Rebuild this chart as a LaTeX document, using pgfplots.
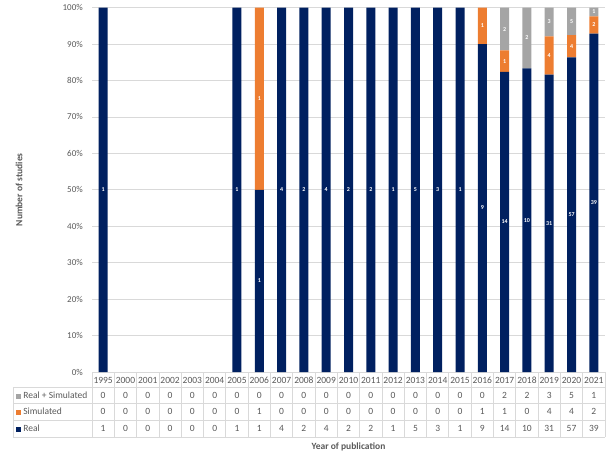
\documentclass[border=0pt]{standalone}
\usepackage{pgfplots}
\usepackage{pgfplotstable}
\pgfplotsset{compat=1.18}
\usepackage{fontspec}
\setmainfont{Carlito}
\definecolor{navy}{HTML}{002060}
\definecolor{orng}{HTML}{ED7D31}
\definecolor{grayc}{HTML}{A5A5A5}
\definecolor{gridc}{HTML}{D9D9D9}
\definecolor{textc}{HTML}{595959}

\pgfplotstableread{
year real sim rs
1995 1 0 0
2000 0 0 0
2001 0 0 0
2002 0 0 0
2003 0 0 0
2004 0 0 0
2005 1 0 0
2006 1 1 0
2007 4 0 0
2008 2 0 0
2009 4 0 0
2010 2 0 0
2011 2 0 0
2012 1 0 0
2013 5 0 0
2014 3 0 0
2015 1 0 0
2016 9 1 0
2017 14 1 2
2018 10 0 2
2019 31 4 3
2020 57 4 5
2021 39 2 1
}\data

\newcommand{\tot}{max(\thisrow{real}+\thisrow{sim}+\thisrow{rs},1)}
\newcommand{\tf}{\fontsize{9.5}{11}\selectfont}

\begin{document}
\begin{tikzpicture}
\useasboundingbox (0,0) rectangle (610pt,458pt);
\begin{axis}[
  at={(92pt,86pt)}, anchor=south west,
  scale only axis, width=513pt, height=364.4pt,
  xmin=-0.5, xmax=22.5, ymin=0, ymax=100,
  ybar stacked, bar width=9pt,
  axis line style={draw=none},
  xtick=\empty,
  ytick={0,10,...,100},
  yticklabel={\pgfmathprintnumber{\tick}\%},
  /pgf/number format/assume math mode=true,
  ymajorgrids, grid style={color=gridc, line width=0.8pt},
  major tick length=0pt,
  yticklabel style={font=\fontsize{9}{10}\selectfont, text=textc, anchor=east, inner sep=0pt, xshift=-9pt},
  clip=false,
]
\addplot[fill=navy, draw=none] table[x expr=\coordindex, y expr={100*\thisrow{real}/\tot}]{\data};
\addplot[fill=orng, draw=none] table[x expr=\coordindex, y expr={100*\thisrow{sim}/\tot}]{\data};
\addplot[fill=grayc, draw=none] table[x expr=\coordindex, y expr={100*\thisrow{rs}/\tot}]{\data};
\end{axis}

\begin{axis}[
  at={(92pt,86pt)}, anchor=south west,
  scale only axis, width=513pt, height=364.4pt,
  xmin=-0.5, xmax=22.5, ymin=0, ymax=100,
  hide axis, clip=false,
  barlab/.style={only marks, mark=none, point meta=explicit symbolic,
    nodes near coords={\ifnum\pgfplotspointmeta>0 \pgfplotspointmeta\fi},
    nodes near coords align=center,
    every node near coord/.append style={font=\fontsize{6}{7}\selectfont\bfseries, text=white, anchor=center, inner sep=0pt}},
  tablab/.style={only marks, mark=none, point meta=explicit symbolic,
    nodes near coords,
    nodes near coords align=center,
    every node near coord/.append style={font=\tf, text=textc, anchor=center, inner sep=0pt}},
]
% bar value labels
\addplot[barlab] table[x expr=\coordindex, y expr={50*\thisrow{real}/\tot}, meta=real]{\data};
\addplot[barlab] table[x expr=\coordindex, y expr={100*(\thisrow{real}+0.5*\thisrow{sim})/\tot}, meta=sim]{\data};
\addplot[barlab] table[x expr=\coordindex, y expr={100*(\thisrow{real}+\thisrow{sim}+0.5*\thisrow{rs})/\tot}, meta=rs]{\data};
% table grid
\pgfplotsinvokeforeach{-4.12,-8.5,-13.2,-17.84}{
  \draw[gridc, line width=0.8pt] (axis cs:-4.04,#1) -- (axis cs:22.5,#1);
}
\draw[gridc, line width=0.8pt] (axis cs:-4.04,-4.12) -- (axis cs:-4.04,-17.84);
\pgfplotsinvokeforeach{-0.5,0.5,...,22.5}{
  \draw[gridc, line width=0.8pt] (axis cs:#1,0) -- (axis cs:#1,-17.84);
}
% table values
\addplot[tablab] table[x expr=\coordindex, y expr={-2.2}, meta=year]{\data};
\addplot[tablab] table[x expr=\coordindex, y expr={-6.45}, meta=rs]{\data};
\addplot[tablab] table[x expr=\coordindex, y expr={-10.84}, meta=sim]{\data};
\addplot[tablab] table[x expr=\coordindex, y expr={-15.5}, meta=real]{\data};
% row labels
\node[anchor=west, font=\tf, text=textc, inner sep=0pt] at (axis cs:-3.907,-6.45) {\textcolor{grayc}{\rule{5pt}{5pt}} Real + Simulated};
\node[anchor=west, font=\tf, text=textc, inner sep=0pt] at (axis cs:-3.907,-10.84) {\textcolor{orng}{\rule{5pt}{5pt}} Simulated};
\node[anchor=west, font=\tf, text=textc, inner sep=0pt] at (axis cs:-3.907,-15.5) {\textcolor{navy}{\rule{5pt}{5pt}} Real};
% axis titles
\node[rotate=90, font=\tf\bfseries, text=textc] at (rel axis cs:-0.1423,0.5) {Number of studies};
\node[font=\tf\bfseries, text=textc] at (rel axis cs:0.5,-0.2058) {Year of publication};
\end{axis}
\end{tikzpicture}
\end{document}
